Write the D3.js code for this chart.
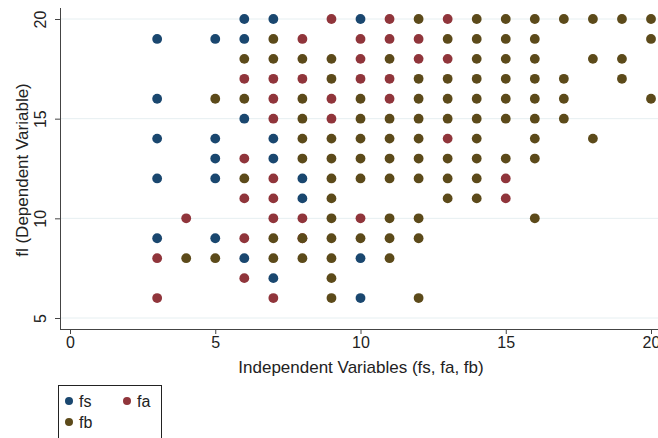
<!DOCTYPE html>
<html>
<head>
<meta charset="utf-8">
<script src="https://cdn.jsdelivr.net/npm/d3@7"></script>
<style>
  body { margin: 0; background: #fff; }
  text { font-family: "Liberation Sans", Arial, sans-serif; fill: #222; }
</style>
</head>
<body>
<svg id="chart" width="658" height="438"></svg>
<script>
// values: [x, fl]
var fs = [[3,19],[3,16],[3,14],[3,12],[3,9],
  [5,19],[5,14],[5,13],[5,12],[5,9],
  [6,20],[6,19],[6,15],[6,8],
  [7,20],[7,14],[7,13],[7,7],
  [8,12],[8,11],
  [10,20],[10,8],[10,6]];

var fa = [[3,8],[3,6],[4,10],
  [6,17],[6,13],[6,11],[6,9],[6,7],
  [7,17],[7,16],[7,15],[7,12],[7,11],[7,10],[7,6],
  [8,19],[8,17],[8,10],[8,9],
  [9,20],[9,16],[9,15],
  [10,19],[10,18],[10,17],[10,10],
  [11,20],[11,19],[11,17],[11,16],
  [12,19],[12,18],
  [13,20],[13,18],[13,14],
  [15,12],[15,11]];

var fb = [[4,8],[5,16],[5,8],
  [6,18],[6,16],[6,12],
  [7,19],[7,18],[7,9],[7,8],
  [8,18],[8,16],[8,15],[8,14],[8,13],[8,9],[8,8],
  [9,18],[9,17],[9,14],[9,13],[9,12],[9,11],[9,10],[9,9],[9,8],[9,7],[9,6],
  [10,16],[10,15],[10,14],[10,13],[10,12],[10,9],
  [11,18],[11,15],[11,14],[11,13],[11,12],[11,10],[11,9],[11,8],
  [12,20],[12,17],[12,16],[12,15],[12,14],[12,13],[12,12],[12,10],[12,9],[12,6],
  [13,19],[13,17],[13,16],[13,15],[13,13],[13,12],[13,11],
  [14,20],[14,19],[14,18],[14,17],[14,16],[14,15],[14,14],[14,13],[14,12],[14,11],
  [15,20],[15,19],[15,18],[15,17],[15,16],[15,15],[15,13],
  [16,20],[16,19],[16,18],[16,17],[16,16],[16,15],[16,14],[16,13],[16,10],
  [17,20],[17,17],[17,16],[17,15],
  [18,20],[18,18],[18,14],
  [19,20],[19,18],[19,17],
  [20,20],[20,19],[20,16]];

var xTicks = [0, 5, 10, 15, 20];
var yTicks = [5, 10, 15, 20];
var seriesNames = ["fs", "fa", "fb"];
var seriesColors = ["#1a476f", "#90353b", "#5c4a1a"];

var svg = d3.select("#chart");

var x = d3.scaleLinear().domain([0, 20]).range([70, 651]);
var y = d3.scaleLinear().domain([5, 20]).range([318, 19]);

// grid lines
svg.append("g").selectAll("line")
  .data(yTicks)
  .enter().append("line")
    .attr("x1", 61).attr("x2", 658)
    .attr("y1", function(d) { return y(d); })
    .attr("y2", function(d) { return y(d); })
    .style("stroke", "#e6eff1")
    .style("stroke-width", 1);

// axes
var yAxis = svg.append("g")
  .attr("transform", "translate(60,0)")
  .call(d3.axisLeft(y).tickValues(yTicks).tickSize(5).tickSizeOuter(0));
yAxis.select(".domain").remove();
yAxis.selectAll(".tick line").style("stroke", "#444");
yAxis.selectAll(".tick text")
  .attr("transform", "rotate(-90)")
  .attr("x", 0).attr("y", -14)
  .attr("dy", 0)
  .style("text-anchor", "middle")
  .style("font-size", "16px")
  .style("font-family", "'Liberation Sans', Arial, sans-serif")
  .style("fill", "#222");

var xAxis = svg.append("g")
  .attr("transform", "translate(0,329)")
  .call(d3.axisBottom(x).tickValues(xTicks).tickSize(5).tickSizeOuter(0));
xAxis.select(".domain").remove();
xAxis.selectAll(".tick line").style("stroke", "#444");
xAxis.selectAll(".tick text")
  .attr("y", 8)
  .style("font-size", "16px")
  .style("font-family", "'Liberation Sans', Arial, sans-serif")
  .style("fill", "#222");

svg.append("line")
  .attr("x1", 60.5).attr("x2", 60.5).attr("y1", 8).attr("y2", 329.5)
  .style("stroke", "#444");
svg.append("line")
  .attr("x1", 60).attr("x2", 658).attr("y1", 329.5).attr("y2", 329.5)
  .style("stroke", "#444");

// axis titles
svg.append("text")
  .attr("x", 361).attr("y", 373)
  .style("text-anchor", "middle")
  .style("font-size", "17px")
  .text("Independent Variables (fs, fa, fb)");

svg.append("text")
  .attr("transform", "translate(28,170) rotate(-90)")
  .style("text-anchor", "middle")
  .style("font-size", "17px")
  .text("fl (Dependent Variable)");

// points
var allSeries = [fs, fa, fb];
allSeries.forEach(function(data, i) {
  svg.append("g").selectAll("circle")
    .data(data)
    .enter().append("circle")
      .attr("cx", function(d) { return x(d[0]); })
      .attr("cy", function(d) { return y(d[1]); })
      .attr("r", 4.9)
      .style("fill", seriesColors[i]);
});

// legend
var legend = svg.append("g");
legend.append("rect")
  .attr("x", 58.5).attr("y", 385.5)
  .attr("width", 103).attr("height", 70)
  .style("fill", "none")
  .style("stroke", "#222");

var legendPos = [[69, 401], [127, 401], [69, 422]];
legend.selectAll(".item")
  .data(seriesNames)
  .enter().append("g")
    .attr("class", "item")
    .attr("transform", function(d, i) {
      return "translate(" + legendPos[i][0] + "," + legendPos[i][1] + ")";
    })
    .each(function(d, i) {
      var g = d3.select(this);
      g.append("circle").attr("r", 4).style("fill", seriesColors[i]);
      g.append("text").attr("x", 10).attr("y", 6)
        .style("font-size", "16px").text(d);
    });
</script>
</body>
</html>
